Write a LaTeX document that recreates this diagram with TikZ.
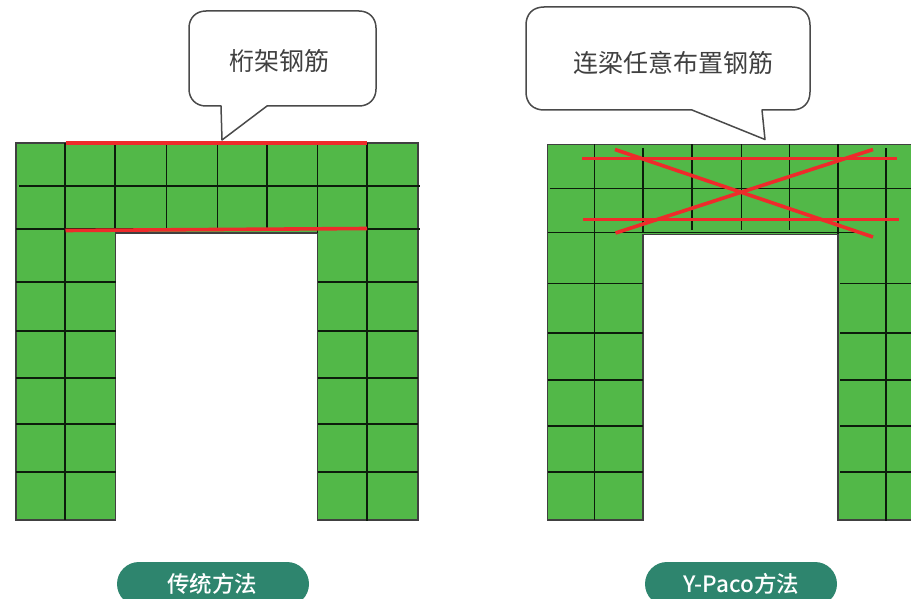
\documentclass[tikz,border=0pt]{standalone}
\usepackage{fontspec}
\newfontfamily\cjk{Noto Sans CJK SC}
\newfontfamily\cjkmed{Noto Sans CJK SC Medium}
\definecolor{wallgreen}{HTML}{52B848}
\definecolor{barred}{HTML}{EE2B2B}
\definecolor{pillgreen}{HTML}{2E856E}
\definecolor{calloutline}{HTML}{4A4A4A}
\definecolor{calltext}{HTML}{404040}
\tikzset{
  x=1pt,y=-1pt,
  wall/.style={fill=wallgreen,draw=black!75,line width=1.3pt},
  gridline/.style={draw=black!85!wallgreen,line width=1.2pt},
  rebar/.style={draw=barred,line width=3.6pt},
  callout/.style={draw=calloutline,fill=white,line width=1.5pt,line join=round},
  calltxt/.style={font=\cjk\fontsize{25}{29}\selectfont,text=calltext,inner sep=0pt},
  pill/.style={fill=pillgreen,draw=none},
  pilltxt/.style={font=\cjkmed\fontsize{22.5}{26}\selectfont,text=white,inner sep=0pt},
}
\begin{document}
\begin{tikzpicture}
\useasboundingbox (0,0) rectangle (911,599);
\clip (0,0) rectangle (911,599);
% ---------- left frame ----------
\path[wall] (16,143) -- (418,143) -- (418,520) -- (317.5,520) -- (317.5,233) -- (115.5,233) -- (115.5,520) -- (16,520) -- cycle;
\foreach \yy in {282,331,378,424,472}{
  \draw[gridline] (16,\yy) -- (115.5,\yy);
  \draw[gridline] (317.5,\yy) -- (418,\yy);
}
\draw[gridline] (19,186) -- (420,186);
\draw[gridline] (16,229) -- (420,229);
\draw[gridline] (65,143) -- (65,520);
\draw[gridline] (367,143) -- (367,521);
\foreach \xx in {115,166.5,217.5,267}{\draw[gridline] (\xx,143) -- (\xx,229);}
\draw[gridline] (317.5,143) -- (317.5,233);
\draw[rebar] (65.5,143) -- (367,143);
\draw[rebar] (65.5,230.5) -- (367,228.5);
% callout left
\path[callout] (206,11) -- (359,11)
  .. controls (369,11) and (376,18) .. (376,28)
  -- (376,89)
  .. controls (376,99) and (369,106) .. (359,106)
  -- (267,106) -- (222,140) -- (221,106) -- (206,106)
  .. controls (196,106) and (189,99) .. (189,89)
  -- (189,28)
  .. controls (189,18) and (196,11) .. (206,11) -- cycle;
\node[calltxt] (leftlabel) at (279.5,61) {桁架钢筋};
% ---------- right frame ----------
\path[wall] (547.5,144.5) -- (920,144.5) -- (920,520) -- (838,520) -- (838,234.5) -- (643,234.5) -- (643,520) -- (547.5,520) -- cycle;
\foreach \yy in {283.5,333,380,426,472}{
  \draw[gridline] (547.5,\yy) -- (643,\yy);
  \draw[gridline] (840,\yy) -- (911,\yy);
}
\draw[gridline] (549.5,188.5) -- (911,188.5);
\draw[gridline] (547.5,232.5) -- (855,232.5);
\draw[gridline] (594.5,144.5) -- (594.5,520);
\draw[gridline] (886,148) -- (886,521);
\draw[gridline] (643,148) -- (643,233);
\foreach \xx in {692,741.5,789.5}{\draw[gridline] (\xx,144.5) -- (\xx,230);}
\draw[gridline] (838,144.5) -- (838,234);
\draw[rebar] (582,158.5) -- (897,158.5);
\draw[rebar] (583,219.5) -- (899,219.5);
\draw[rebar] (615,149.5) -- (873,237);
\draw[rebar] (615.5,233) -- (873,149.5);
% callout right
\path[callout] (544,7) -- (792,7)
  .. controls (803,7) and (810,14) .. (810,25)
  -- (810,92)
  .. controls (810,103) and (803,110) .. (792,110)
  -- (762,110) -- (765,139.5) -- (692,110) -- (544,110)
  .. controls (533,110) and (526,103) .. (526,92)
  -- (526,25)
  .. controls (526,14) and (533,7) .. (544,7) -- cycle;
\node[calltxt] (rightlabel) at (673.5,62.5) {连梁任意布置钢筋};
% ---------- pills ----------
\path[pill] (139,562) -- (287,562) arc[start angle=-90,end angle=90,radius=22,y=-1pt] -- (139,606) arc[start angle=90,end angle=270,radius=22,y=-1pt] -- cycle;
\node[pilltxt] (leftpill) at (212,584) {传统方法};
\path[pill] (667,562) -- (815,562) arc[start angle=-90,end angle=90,radius=22,y=-1pt] -- (667,606) arc[start angle=90,end angle=270,radius=22,y=-1pt] -- cycle;
\node[pilltxt] (rightpill) at (741.5,584) {Y-Paco方法};
\end{tikzpicture}
\end{document}
